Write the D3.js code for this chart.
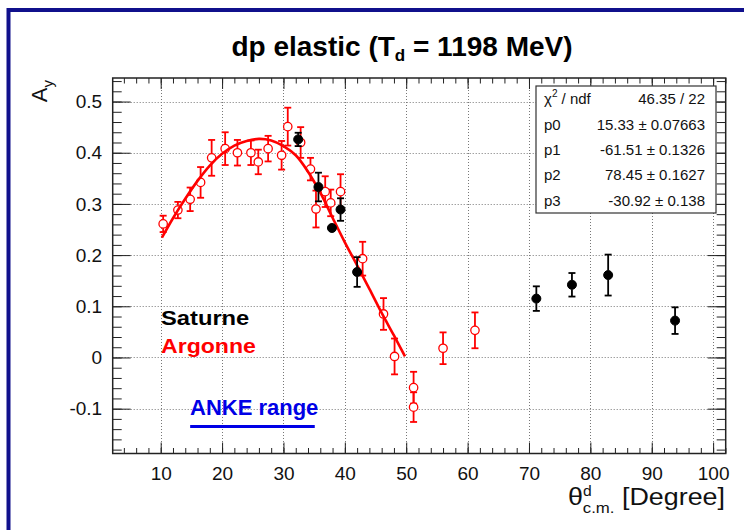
<!DOCTYPE html>
<html><head><meta charset="utf-8">
<script src="https://cdn.jsdelivr.net/npm/d3@7"></script>
<style>
body{margin:0;background:#fff}
svg{display:block}
text{font-family:"Liberation Sans",Arial,Helvetica,sans-serif}
</style>
</head><body>
<svg id="c" width="744" height="530"></svg>
<script>
// ---------------- data ----------------
const argTheta = [10.4,12.8,14.8,16.5,18.3,20.5,22.5,24.7,25.9,27.5,29.7,30.7,32.8,34.4,35.3,36.8,37.7,39.3,42.9,46.3,48.1,51.2,51.2,56.0,61.2];
const argAy    = [0.261,0.288,0.309,0.342,0.390,0.408,0.400,0.400,0.382,0.408,0.395,0.451,0.420,0.368,0.290,0.324,0.302,0.324,0.193,0.085,0.002,-0.059,-0.097,0.018,0.053];
const argErr   = [0.016,0.016,0.023,0.030,0.035,0.032,0.025,0.024,0.024,0.025,0.028,0.037,0.030,0.022,0.036,0.030,0.026,0.034,0.033,0.031,0.035,0.031,0.029,0.031,0.035];

const satTheta = [32.4,35.7,37.9,39.3,42.0,71.2,77.0,82.9,93.8];
const satAy    = [0.426,0.333,0.253,0.289,0.167,0.115,0.142,0.161,0.072];
const satErr   = [0.013,0.028,0.005,0.022,0.029,0.024,0.023,0.040,0.026];

const fitTheta = [10.2,12,14,16,18,20,22,24,26,28,30,32,34,36,38,40,42,44,46,48,49.8];
const fitAy    = [0.234,0.272,0.310,0.345,0.375,0.398,0.414,0.423,0.427,0.424,0.413,0.395,0.363,0.322,0.273,0.225,0.180,0.134,0.087,0.043,0.002];

const xMajor = [10,20,30,40,50,60,70,80,90,100];
const yMajor = [-0.1,0,0.1,0.2,0.3,0.4,0.5];
const yLabels = ["-0.1","0","0.1","0.2","0.3","0.4","0.5"];
const xMinor = d3.range(4,103,2);
const yMinor = d3.range(-18,55,2).map(v=>v/100);

const ankeRange = [14.8,35.1];
const ankeAy = -0.135;

const statsLabels = ["χ", "p0","p1","p2","p3"];
const statsValues = ["46.35 / 22","15.33 ± 0.07663","-61.51 ± 0.1326","78.45 ± 0.1627","-30.92 ± 0.138"];

// ---------------- layout ----------------
const svg = d3.select("#c");
const L=112.7, R=725.7, T=78, B=453.5;
const x = d3.scaleLinear().domain([2.18,102.05]).range([L,R]);
const y = d3.scaleLinear().domain([-0.1876,0.546]).range([B,T]);
const RED="#ff0000", NAVY="#10108c";

svg.append("rect").attr("width",744).attr("height",530).attr("fill","#fff");
// outer navy frame (left/top visible)
svg.append("rect").attr("x",8.5).attr("y",10).attr("width",900).attr("height",900)
  .attr("fill","none").attr("stroke",NAVY).attr("stroke-width",4);

// title
const title = svg.append("text").attr("x",402).attr("y",56).attr("text-anchor","middle")
  .attr("font-size",28).attr("font-weight","bold").attr("fill","#000");
title.append("tspan").text("dp elastic (T");
title.append("tspan").attr("font-size",17).attr("dy",5).text("d");
title.append("tspan").attr("dy",-5).text(" = 1198 MeV)");

// grid
const grid = svg.append("g").attr("stroke","#777").attr("stroke-width",1).attr("stroke-dasharray","1,2");
grid.selectAll("line.gx").data(xMajor).join("line")
  .attr("x1",d=>Math.round(x(d))+0.5).attr("x2",d=>Math.round(x(d))+0.5).attr("y1",T).attr("y2",B);
grid.selectAll("line.gy").data(yMajor).join("line")
  .attr("y1",d=>Math.round(y(d))+0.5).attr("y2",d=>Math.round(y(d))+0.5).attr("x1",L).attr("x2",R);

// axes (ticks inward)
function axes(){
  const g = svg.append("g");
  const xb = g.append("g").attr("transform",`translate(0,${B})`);
  xb.append("g").call(d3.axisBottom(x).tickValues(xMinor).tickSize(-5.5).tickFormat(""));
  xb.append("g").call(d3.axisBottom(x).tickValues(xMajor).tickSize(-11).tickPadding(13).tickFormat(d3.format("d")));
  const xt = g.append("g").attr("transform",`translate(0,${T})`);
  xt.append("g").call(d3.axisTop(x).tickValues(xMinor).tickSize(-5.5).tickFormat(""));
  xt.append("g").call(d3.axisTop(x).tickValues(xMajor).tickSize(-11).tickFormat(""));
  const yl = g.append("g").attr("transform",`translate(${L},0)`);
  yl.append("g").call(d3.axisLeft(y).tickValues(yMinor).tickSize(-9).tickFormat(""));
  yl.append("g").call(d3.axisLeft(y).tickValues(yMajor).tickSize(-18).tickPadding(10.5).tickFormat((d,i)=>yLabels[i]));
  const yr = g.append("g").attr("transform",`translate(${R},0)`);
  yr.append("g").call(d3.axisRight(y).tickValues(yMinor).tickSize(-9).tickFormat(""));
  yr.append("g").call(d3.axisRight(y).tickValues(yMajor).tickSize(-18).tickFormat(""));
  g.selectAll(".domain").remove();
  g.selectAll(".tick line").attr("stroke","#222").attr("stroke-width",1);
  g.selectAll(".tick text").attr("font-size",19).attr("fill","#111").attr("font-family","Liberation Sans, Arial, sans-serif");
  g.append("rect").attr("x",L).attr("y",T).attr("width",R-L).attr("height",B-T)
    .attr("fill","none").attr("stroke","#222").attr("stroke-width",1.5);
}

// error bars
function errbars(th, ay, er, color, r){
  const g = svg.append("g").attr("stroke",color).attr("stroke-width",1.8);
  th.forEach((t,i)=>{
    const cx=x(t), cy=y(ay[i]), top=y(ay[i]+er[i]), bot=y(ay[i]-er[i]);
    if (top < cy-r) {
      g.append("line").attr("x1",cx).attr("x2",cx).attr("y1",cy-r).attr("y2",top);
      g.append("line").attr("x1",cx-3.5).attr("x2",cx+3.5).attr("y1",top).attr("y2",top);
    }
    if (bot > cy+r) {
      g.append("line").attr("x1",cx).attr("x2",cx).attr("y1",cy+r).attr("y2",bot);
      g.append("line").attr("x1",cx-3.5).attr("x2",cx+3.5).attr("y1",bot).attr("y2",bot);
    }
  });
}
errbars(argTheta,argAy,argErr,RED,4.2);
svg.append("g").selectAll("circle").data(argTheta).join("circle")
  .attr("cx",d=>x(d)).attr("cy",(d,i)=>y(argAy[i])).attr("r",4.2)
  .attr("fill","#fff").attr("stroke",RED).attr("stroke-width",1.3);

// fit curve
const fitLine = d3.line().x(d=>x(d[0])).y(d=>y(d[1])).curve(d3.curveCatmullRom);
svg.append("path").datum(fitTheta.map((t,i)=>[t,fitAy[i]])).attr("d",fitLine)
  .attr("fill","none").attr("stroke",RED).attr("stroke-width",2.6);

errbars(satTheta,satAy,satErr,"#000",4.5);
svg.append("g").selectAll("circle").data(satTheta).join("circle")
  .attr("cx",d=>x(d)).attr("cy",(d,i)=>y(satAy[i])).attr("r",4.5)
  .attr("fill","#000").attr("stroke","#000");

axes();

// stats box
const sb = svg.append("g");
const bx=536, by=86, bw=180, bh=127;
sb.append("rect").attr("x",bx).attr("y",by).attr("width",bw).attr("height",bh)
  .attr("fill","#fff").attr("stroke","#333").attr("stroke-width",1.2);
statsLabels.forEach((lab,i)=>{
  const yy = by + bh/5*(i+0.5) + 5.5;
  const t = sb.append("text").attr("x",bx+8).attr("y",yy).attr("font-size",15).attr("fill","#111");
  if(i===0){ t.append("tspan").text("χ"); t.append("tspan").attr("font-size",10).attr("dy",-7).text("2"); t.append("tspan").attr("dy",7).text(" / ndf"); }
  else t.text(lab);
  sb.append("text").attr("x",bx+bw-11).attr("y",yy).attr("text-anchor","end").attr("font-size",15).attr("fill","#111").text(statsValues[i]);
});

// legend annotations
svg.append("text").attr("transform","translate(161,325) scale(1.13,1)").attr("font-size",21).attr("font-weight","bold").attr("fill","#000").text("Saturne");
svg.append("text").attr("transform","translate(161,353) scale(1.1,1)").attr("font-size",21).attr("font-weight","bold").attr("fill",RED).text("Argonne");
svg.append("text").attr("x",190).attr("y",415).attr("font-size",22).attr("font-weight","bold").attr("fill","#0000e6").text("ANKE range");
svg.append("line").attr("x1",x(ankeRange[0])).attr("x2",x(ankeRange[1])).attr("y1",y(ankeAy)).attr("y2",y(ankeAy))
  .attr("stroke","#0000e6").attr("stroke-width",3);

// axis titles
const yt = svg.append("text").attr("transform","translate(47,80) rotate(-90)").attr("text-anchor","end")
  .attr("font-size",22).attr("fill","#111");
yt.append("tspan").text("A");
yt.append("tspan").attr("font-size",15).attr("dy",6).text("y");

const xtl = svg.append("text").attr("transform","translate(725,505) scale(1.12,1)").attr("text-anchor","end").attr("font-size",24).attr("fill","#111");
xtl.append("tspan").text("θ");
xtl.append("tspan").attr("font-size",14).attr("dy",-9).text("d");
xtl.append("tspan").attr("font-size",15).attr("dx",-8).attr("dy",17).text("c.m.");
xtl.append("tspan").attr("dy",-8).text(" [Degree]");
</script>
</body></html>
